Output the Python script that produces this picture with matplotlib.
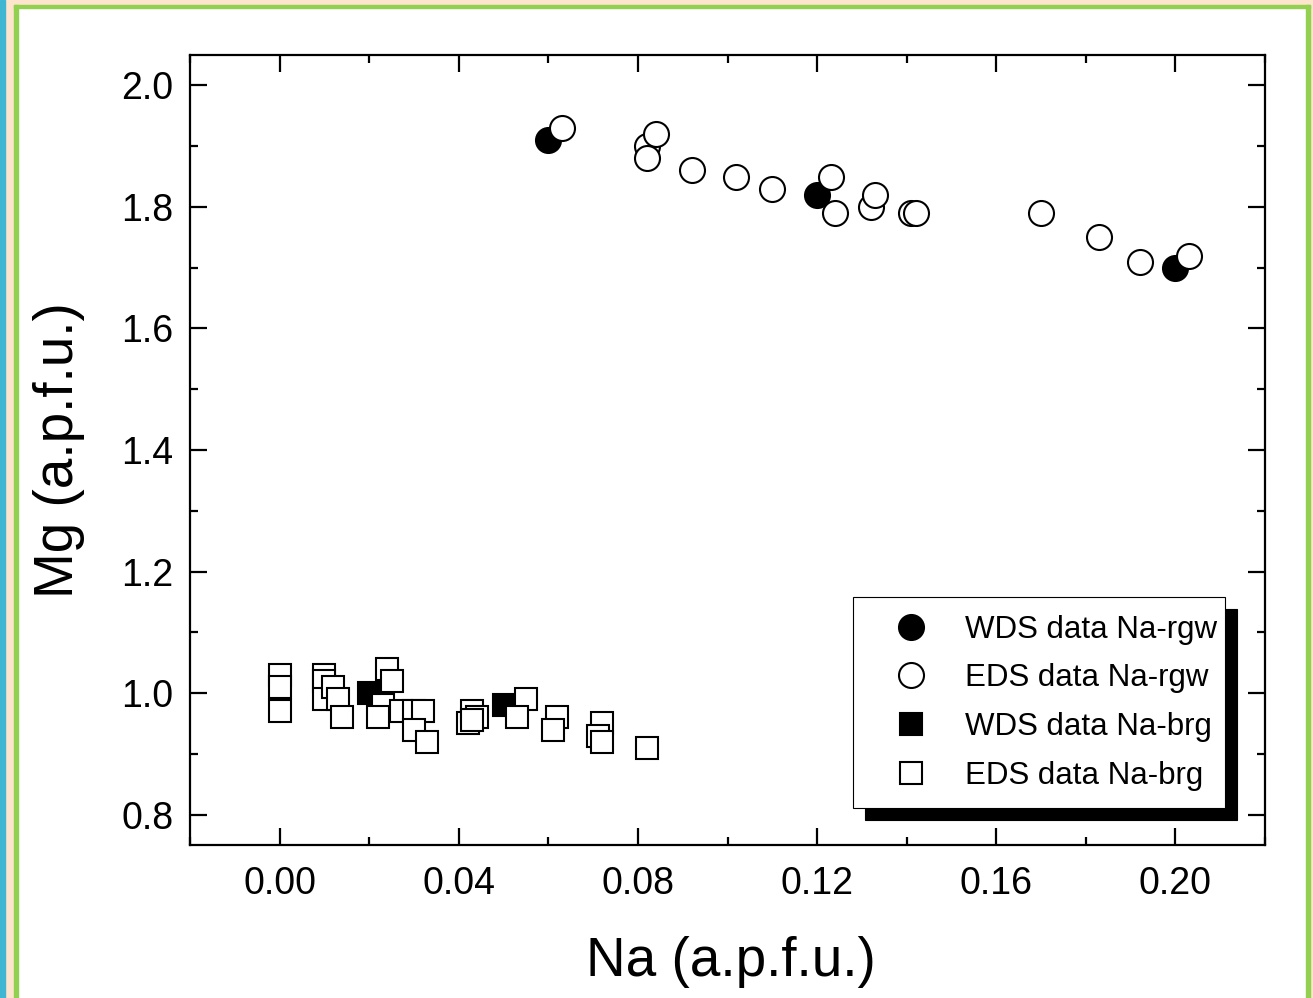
import numpy as np
import matplotlib
matplotlib.use("Agg")
import matplotlib.pyplot as plt
from matplotlib.patches import Rectangle
from matplotlib.ticker import MultipleLocator, FormatStrFormatter

plt.rcParams['font.family'] = ['Liberation Sans', 'DejaVu Sans']

# Na-rgw (circles)
wds_rgw_na = [0.060, 0.120, 0.200]
wds_rgw_mg = [1.91, 1.82, 1.70]
eds_rgw_na = [0.063, 0.082, 0.084, 0.082, 0.092, 0.102, 0.110, 0.123, 0.124,
              0.132, 0.133, 0.141, 0.142, 0.170, 0.183, 0.192, 0.203]
eds_rgw_mg = [1.93, 1.90, 1.92, 1.88, 1.86, 1.85, 1.83, 1.85, 1.79,
              1.80, 1.82, 1.79, 1.79, 1.79, 1.75, 1.71, 1.72]

# Na-brg (squares)
wds_brg_na = [0.020, 0.050]
wds_brg_mg = [1.00, 0.98]
eds_brg_na = [0.000, 0.000, 0.000,
              0.010, 0.010, 0.010, 0.012, 0.013, 0.014,
              0.024, 0.025, 0.023, 0.022, 0.027, 0.030, 0.032, 0.030, 0.033,
              0.042, 0.043, 0.044, 0.043,
              0.055, 0.053, 0.062, 0.061,
              0.072, 0.071, 0.072, 0.082]
eds_brg_mg = [1.03, 1.01, 0.97,
              1.03, 1.02, 0.99, 1.01, 0.99, 0.96,
              1.04, 1.02, 0.98, 0.96, 0.97, 0.97, 0.97, 0.94, 0.92,
              0.95, 0.97, 0.96, 0.955,
              0.99, 0.96, 0.96, 0.94,
              0.95, 0.93, 0.92, 0.91]

fig = plt.figure(figsize=(13.13, 9.98), dpi=100)

# page frame decoration
fig.patches.append(Rectangle((0, 0), 14/1313, 1, transform=fig.transFigure, color='#fde4cc', zorder=0))
fig.patches.append(Rectangle((0, 1-5/998), 1, 5/998, transform=fig.transFigure, color='#fde4cc', zorder=0))
fig.patches.append(Rectangle((1310/1313, 0), 3/1313, 1, transform=fig.transFigure, color='#fde4cc', zorder=0))
fig.patches.append(Rectangle((0, 0), 5/1313, 1, transform=fig.transFigure, color='#41b6d3', zorder=1))
fig.patches.append(Rectangle((14/1313, 0), 4/1313, 1-5/998, transform=fig.transFigure, color='#92d050', zorder=1))
fig.patches.append(Rectangle((14/1313, 1-8/998), 1296/1313, 3/998, transform=fig.transFigure, color='#92d050', zorder=1))
fig.patches.append(Rectangle((1306/1313, 0), 4/1313, 1-5/998, transform=fig.transFigure, color='#92d050', zorder=1))

ax = fig.add_axes([190/1313, 1-845/998, 1075/1313, 790/998])

ms_c = 18
ms_s = 16
ew = 1.5
ax.plot(wds_rgw_na, wds_rgw_mg, 'o', ms=ms_c, mfc='k', mec='k', mew=ew, label='WDS data Na-rgw', zorder=3)
ax.plot(eds_rgw_na, eds_rgw_mg, 'o', ms=ms_c, mfc='w', mec='k', mew=ew, label='EDS data Na-rgw', zorder=4)
ax.plot(wds_brg_na, wds_brg_mg, 's', ms=ms_s, mfc='k', mec='k', mew=ew, label='WDS data Na-brg', zorder=3)
for xi, yi in zip(eds_brg_na, eds_brg_mg):
    ax.plot(xi, yi, 's', ms=ms_s, mfc='w', mec='k', mew=ew, zorder=4)
ax.plot([], [], 's', ms=ms_s, mfc='w', mec='k', mew=ew, label='EDS data Na-brg')

ax.set_xlim(-0.02, 0.22)
ax.set_ylim(0.75, 2.05)
ax.xaxis.set_major_locator(MultipleLocator(0.04))
ax.xaxis.set_minor_locator(MultipleLocator(0.02))
ax.yaxis.set_major_locator(MultipleLocator(0.2))
ax.yaxis.set_minor_locator(MultipleLocator(0.1))
ax.xaxis.set_major_formatter(FormatStrFormatter('%.2f'))
ax.yaxis.set_major_formatter(FormatStrFormatter('%.1f'))

for s in ax.spines.values():
    s.set_linewidth(1.6)
ax.tick_params(which='both', direction='in', top=True, right=True, width=1.6)
ax.tick_params(which='major', length=12.5, labelsize=27)
ax.tick_params(which='minor', length=6)
ax.tick_params(axis='y', pad=12)
ax.tick_params(axis='x', pad=15)

ax.set_xlabel('Na (a.p.f.u.)', fontsize=39.5)
ax.set_ylabel('Mg (a.p.f.u.)', fontsize=39.5)
ax.xaxis.set_label_coords(0.503, -0.115)
ax.yaxis.set_label_coords(-0.098, 0.5)

leg = ax.legend(loc='lower left', bbox_to_anchor=(0.6167, 0.0468, 0.3461, 0.263),
                mode='expand', borderaxespad=0, fontsize=22.5, frameon=True,
                fancybox=False, edgecolor='k', framealpha=1,
                borderpad=0.55, labelspacing=0.6, handlelength=2.6,
                handletextpad=0.45, markerscale=1.0,
                shadow={'ox': 8.6, 'oy': -8.6, 'color': 'k', 'alpha': 1})
leg.get_frame().set_linewidth(0.8)
leg.set_zorder(10)

fig.savefig('out.png', dpi=100, facecolor='white')
